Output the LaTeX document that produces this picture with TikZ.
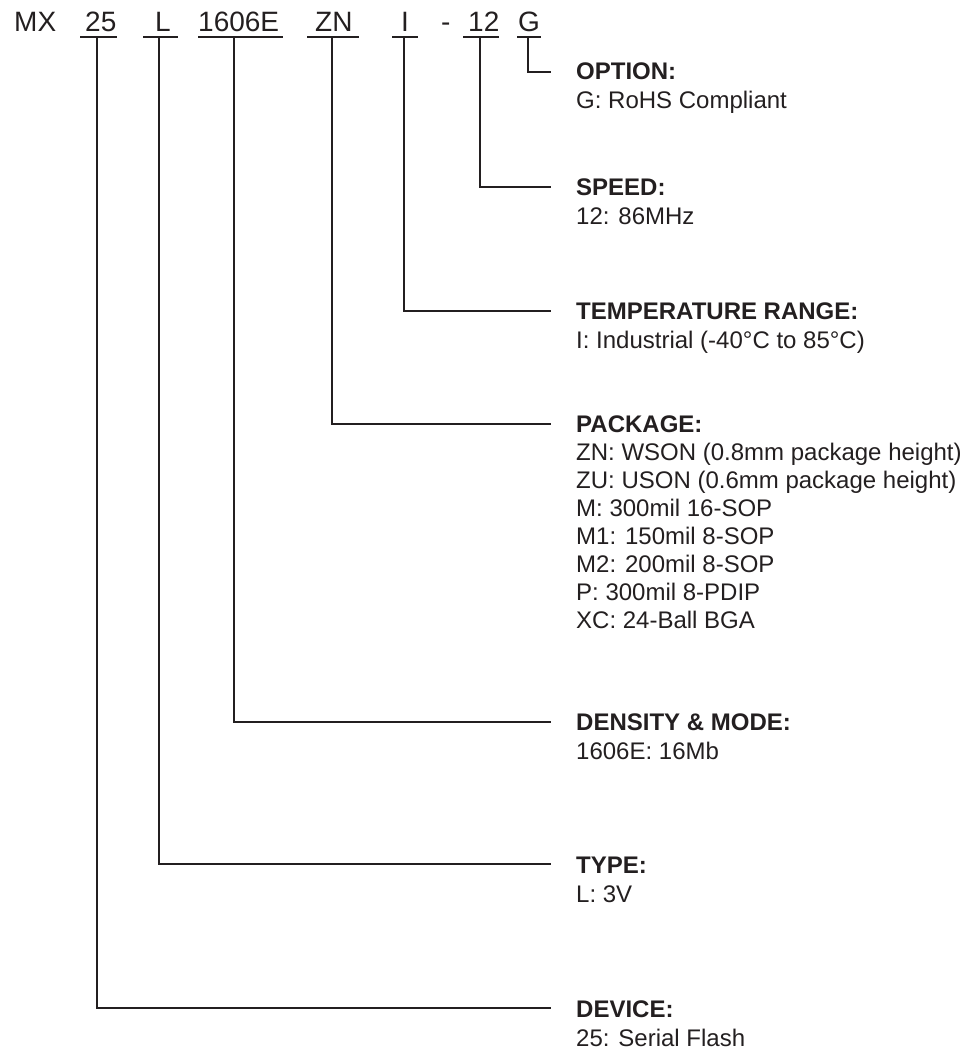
\documentclass[tikz,border=0pt]{standalone}
\usepackage{fontspec}
\setmainfont{Liberation Sans}
\definecolor{ink}{HTML}{231F20}
\begin{document}
\begin{tikzpicture}[x=1pt,y=-1pt,
  code/.style={anchor=base west,inner sep=0pt,font=\fontsize{28}{32}\selectfont,text=ink},
  ttl/.style={anchor=base west,inner sep=0pt,font=\fontsize{24}{28}\selectfont\bfseries,text=ink},
  desc/.style={anchor=base west,inner sep=0pt,font=\fontsize{24}{28}\selectfont,text=ink},
  uline/.style={draw=ink,line width=2pt},
  conn/.style={draw=ink,line width=2pt}]
\useasboundingbox (0,0) rectangle (969,1051);
% top row code
\node[code] (mx) at (14,31.7) {MX};
\node[code] (c25) at (85,31.7) {25};
\node[code] (cL) at (155,31.7) {L};
\node[code] (c1606) at (198,31.7) {1606E};
\node[code] (cZN) at (315,31.7) {ZN};
\node[code] (cI) at (401,31.7) {I};
\node[code] (cdash) at (441,31.7) {-};
\node[code] (c12) at (468,31.7) {12};
\node[code] (cG) at (518,31.7) {G};
% underlines
\draw[uline] (80,37) -- (117,37);
\draw[uline] (143,37) -- (178,37);
\draw[uline] (198,37) -- (283,37);
\draw[uline] (307,37) -- (359,37);
\draw[uline] (392,37) -- (418,37);
\draw[uline] (463,37) -- (499,37);
\draw[uline] (517,37) -- (541,37);
% connector start / end coordinates
\coordinate (s25) at (97,37);
\coordinate (sL) at (159,37);
\coordinate (s1606) at (234,37);
\coordinate (sZN) at (332,37);
\coordinate (sI) at (404,37);
\coordinate (s12) at (480,37);
\coordinate (sG) at (528,37);
\coordinate (eG) at (551,72);
\coordinate (e12) at (551,187);
\coordinate (eI) at (551,311);
\coordinate (eZN) at (551,424);
\coordinate (e1606) at (551,722);
\coordinate (eL) at (551,864);
\coordinate (e25) at (551,1008);
% labels
\node[ttl] (tOpt) at (576,80) {OPTION:};
\node[desc] (dOpt) at (576,109) {G: RoHS Compliant};
\node[ttl] (tSpd) at (576,195) {SPEED:};
\node[desc] (dSpd) at (576,224) {12: 86MHz};
\node[ttl] (tTmp) at (576,319) {TEMPERATURE RANGE:};
\node[desc] (dTmp) at (576,348) {I: Industrial (-40°C to 85°C)};
\node[ttl] (tPkg) at (576,432) {PACKAGE:};
\node[desc] (p1) at (576,460) {ZN: WSON (0.8mm package height)};
\node[desc] (p2) at (576,488) {ZU: USON (0.6mm package height)};
\node[desc] (p3) at (576,516) {M: 300mil 16-SOP};
\node[desc] (p4) at (576,544) {M1: 150mil 8-SOP};
\node[desc] (p5) at (576,572) {M2: 200mil 8-SOP};
\node[desc] (p6) at (576,600) {P: 300mil 8-PDIP};
\node[desc] (p7) at (576,628) {XC: 24-Ball BGA};
\node[ttl] (tDen) at (576,730) {DENSITY \& MODE:};
\node[desc] (dDen) at (576,759) {1606E: 16Mb};
\node[ttl] (tTyp) at (576,873) {TYPE:};
\node[desc] (dTyp) at (576,902) {L: 3V};
\node[ttl] (tDev) at (576,1017) {DEVICE:};
\node[desc] (dDev) at (576,1046) {25: Serial Flash};
% connectors
\draw[conn] (sG) |- (eG);
\draw[conn] (s12) |- (e12);
\draw[conn] (sI) |- (eI);
\draw[conn] (sZN) |- (eZN);
\draw[conn] (s1606) |- (e1606);
\draw[conn] (sL) |- (eL);
\draw[conn] (s25) |- (e25);
\end{tikzpicture}
\end{document}
